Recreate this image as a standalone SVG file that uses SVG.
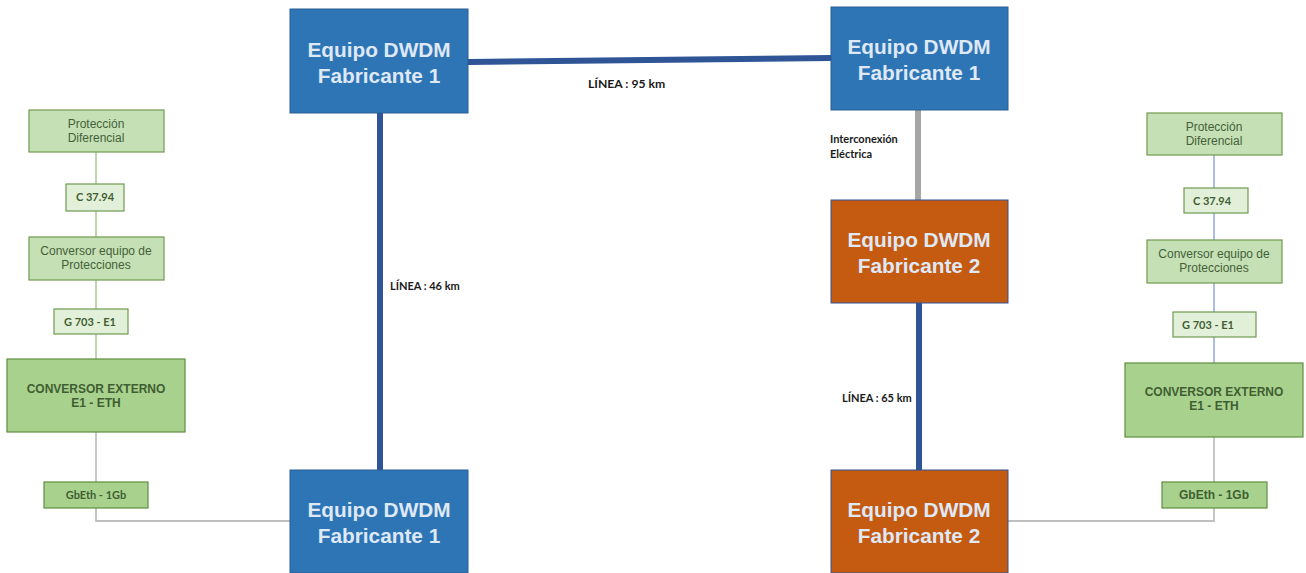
<svg xmlns="http://www.w3.org/2000/svg" width="1306" height="573" viewBox="0 0 1306 573">
<style>
.blue{fill:#2e75b6;stroke:#2a5f95;stroke-width:1}
.orange{fill:#c55a11;stroke:#2f5597;stroke-width:1}
.dt{font-family:"Liberation Sans",Arial,sans-serif;font-weight:bold;font-size:20.8px;fill:#dfe8f5;text-anchor:middle}
.g1{fill:#c5e0b4;stroke:#6f9a50;stroke-width:1.2}
.g2{fill:#e2f0d9;stroke:#6f9a50;stroke-width:1.2}
.g3{fill:#a9d18e;stroke:#5e8f3e;stroke-width:1.2}
.gt{font-family:"Liberation Sans",Arial,sans-serif;font-size:12px;fill:#44613a;text-anchor:middle}
.gb{font-family:Lato,"Open Sans",sans-serif;font-weight:bold;font-size:11px;fill:#3f5e31;text-anchor:middle}
.gx{font-family:"Liberation Sans",Arial,sans-serif;font-weight:bold;font-size:12px;fill:#3f5e31;text-anchor:middle}
.lab{font-family:Lato,"Open Sans",sans-serif;font-weight:bold;font-size:11px;fill:#1a1a1a}
</style>
<rect width="1306" height="573" fill="#ffffff"/>
<g id="connectors" fill="none">
<line x1="468" y1="62" x2="831" y2="58" stroke="#2f5597" stroke-width="6"/>
<line x1="380" y1="113" x2="380" y2="470" stroke="#2f5597" stroke-width="6"/>
<line x1="918" y1="110" x2="918" y2="200" stroke="#a6a6a6" stroke-width="6"/>
<line x1="919" y1="303" x2="919" y2="470" stroke="#2f5597" stroke-width="6"/>
<line x1="96" y1="152" x2="96" y2="359" stroke="#a9c98f" stroke-width="1.5"/>
<polyline points="96,432 96,482" stroke="#b4b4b4" stroke-width="1.5"/>
<polyline points="96,508 96,521 290,521" stroke="#bfbfbf" stroke-width="1.8"/>
<line x1="1214" y1="155" x2="1214" y2="363" stroke="#8faadc" stroke-width="1.5"/>
<polyline points="1214,437 1214,482" stroke="#b4b4b4" stroke-width="1.5"/>
<polyline points="1214,508 1214,521 1008,521" stroke="#bfbfbf" stroke-width="1.8"/>
</g>
<g id="lbl95"><text class="lab" x="588" y="88" style="font-size:12.2px">LÍNEA : 95 km</text></g>
<g id="lbl46"><text class="lab" x="390" y="290">LÍNEA : 46 km</text></g>
<g id="lbl65"><text class="lab" x="842" y="402">LÍNEA : 65 km</text></g>
<g id="lblInter"><text class="lab" x="830" y="143">Interconexión</text><text class="lab" x="830" y="158">Eléctrica</text></g>
<g id="dwdm-tl"><rect class="blue" x="290" y="9" width="178" height="104"/><text class="dt" x="379" y="57">Equipo DWDM</text><text class="dt" x="379" y="83">Fabricante 1</text></g>
<g id="dwdm-tr"><rect class="blue" x="831" y="7" width="177" height="103"/><text class="dt" x="919" y="54">Equipo DWDM</text><text class="dt" x="919" y="80">Fabricante 1</text></g>
<g id="dwdm-bl"><rect class="blue" x="290" y="470" width="178" height="103"/><text class="dt" x="379" y="517">Equipo DWDM</text><text class="dt" x="379" y="543">Fabricante 1</text></g>
<g id="dwdm-mr"><rect class="orange" x="831" y="200" width="177" height="103"/><text class="dt" x="919" y="247">Equipo DWDM</text><text class="dt" x="919" y="273">Fabricante 2</text></g>
<g id="dwdm-br"><rect class="orange" x="831" y="470" width="177" height="103"/><text class="dt" x="919" y="517">Equipo DWDM</text><text class="dt" x="919" y="543">Fabricante 2</text></g>
<g id="l-prot"><rect class="g1" x="29" y="110" width="135" height="42"/><text class="gt" x="96" y="128">Protección</text><text class="gt" x="96" y="142">Diferencial</text></g>
<g id="l-c37"><rect class="g2" x="66" y="184" width="58" height="27"/><text class="gb" x="95" y="201">C 37.94</text></g>
<g id="l-conv"><rect class="g1" x="29" y="237" width="135" height="43"/><text class="gt" x="96" y="255">Conversor equipo de</text><text class="gt" x="96" y="269">Protecciones</text></g>
<g id="l-g703"><rect class="g2" x="54" y="309" width="74" height="25"/><text class="gb" x="90" y="326">G 703 -  E1</text></g>
<g id="l-ext"><rect class="g3" x="7" y="359" width="178" height="73"/><text class="gx" x="96" y="393">CONVERSOR EXTERNO</text><text class="gx" x="96" y="407">E1 - ETH</text></g>
<g id="l-gbeth"><rect class="g3" x="44" y="482" width="104" height="26"/><text class="gb" x="96" y="499">GbEth - 1Gb</text></g>
<g id="r-prot"><rect class="g1" x="1147" y="113" width="135" height="42"/><text class="gt" x="1214" y="131">Protección</text><text class="gt" x="1214" y="145">Diferencial</text></g>
<g id="r-c37"><rect class="g2" x="1184" y="188" width="64" height="25"/><text class="gb" x="1212" y="205">C 37.94</text></g>
<g id="r-conv"><rect class="g1" x="1147" y="240" width="135" height="43"/><text class="gt" x="1214" y="258">Conversor equipo de</text><text class="gt" x="1214" y="272">Protecciones</text></g>
<g id="r-g703"><rect class="g2" x="1173" y="312" width="83" height="25"/><text class="gb" x="1208" y="329">G 703 -  E1</text></g>
<g id="r-ext"><rect class="g3" x="1125" y="363" width="178" height="74"/><text class="gx" x="1214" y="396">CONVERSOR EXTERNO</text><text class="gx" x="1214" y="410">E1 - ETH</text></g>
<g id="r-gbeth"><rect class="g3" x="1162" y="482" width="105" height="26"/><text class="gx" x="1214" y="499">GbEth - 1Gb</text></g>
</svg>
